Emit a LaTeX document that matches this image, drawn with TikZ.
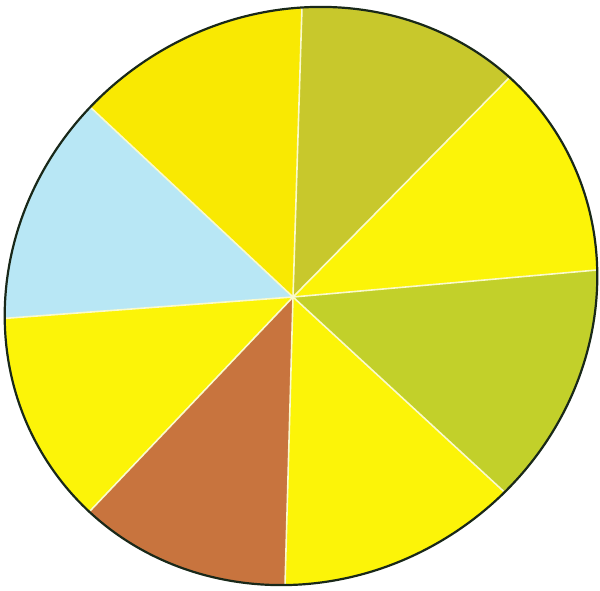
\documentclass[tikz,border=0pt]{standalone}
\usetikzlibrary{calc}
\definecolor{olivetop}{RGB}{200,200,44}
\definecolor{oliveright}{RGB}{194,208,42}
\definecolor{yelbright}{RGB}{252,244,8}
\definecolor{yelwarm}{RGB}{249,233,2}
\definecolor{brownseg}{RGB}{200,116,62}
\definecolor{blueseg}{RGB}{184,231,245}
\definecolor{divcol}{RGB}{250,250,205}
\definecolor{rimcol}{RGB}{25,40,25}
\tikzset{
  divider/.style={draw=divcol, line width=1.6pt},
  rim/.style={draw=rimcol, line width=2.2pt},
  rimshape/.style={x radius=303, y radius=282, rotate=35},
}
\begin{document}
\begin{tikzpicture}[x=1pt,y=-1pt]
\useasboundingbox[fill=white] (0,0) rectangle (600,591);
\coordinate (O) at (293,297);
\coordinate (P1) at (302,7);
\coordinate (P2) at (510,77);
\coordinate (P3) at (597,270);
\coordinate (P4) at (500,488);
\coordinate (P5) at (285,586);
\coordinate (P6) at (90,511);
\coordinate (P7) at (10,318);
\coordinate (P8) at (88,105);
\coordinate (C) at (301,296);
\begin{scope}
\clip (C) ellipse [rimshape];
\fill[olivetop]   (O) -- ($(O)!1.6!(P1)$) -- ($(O)!1.6!(P2)$) -- cycle;
\fill[yelbright]  (O) -- ($(O)!1.6!(P2)$) -- ($(O)!1.6!(P3)$) -- cycle;
\fill[oliveright] (O) -- ($(O)!1.6!(P3)$) -- ($(O)!1.6!(P4)$) -- cycle;
\fill[yelbright]  (O) -- ($(O)!1.6!(P4)$) -- ($(O)!1.6!(P5)$) -- cycle;
\fill[brownseg]   (O) -- ($(O)!1.6!(P5)$) -- ($(O)!1.6!(P6)$) -- cycle;
\fill[yelbright]  (O) -- ($(O)!1.6!(P6)$) -- ($(O)!1.6!(P7)$) -- cycle;
\fill[blueseg]    (O) -- ($(O)!1.6!(P7)$) -- ($(O)!1.6!(P8)$) -- cycle;
\fill[yelwarm]    (O) -- ($(O)!1.6!(P8)$) -- ($(O)!1.6!(P1)$) -- cycle;
\foreach \p in {P1,P2,P3,P4,P5,P6,P7,P8}
  \draw[divider] (O) -- ($(O)!1.2!(\p)$);
\end{scope}
\draw[rim] (C) ellipse [rimshape];
\end{tikzpicture}
\end{document}
